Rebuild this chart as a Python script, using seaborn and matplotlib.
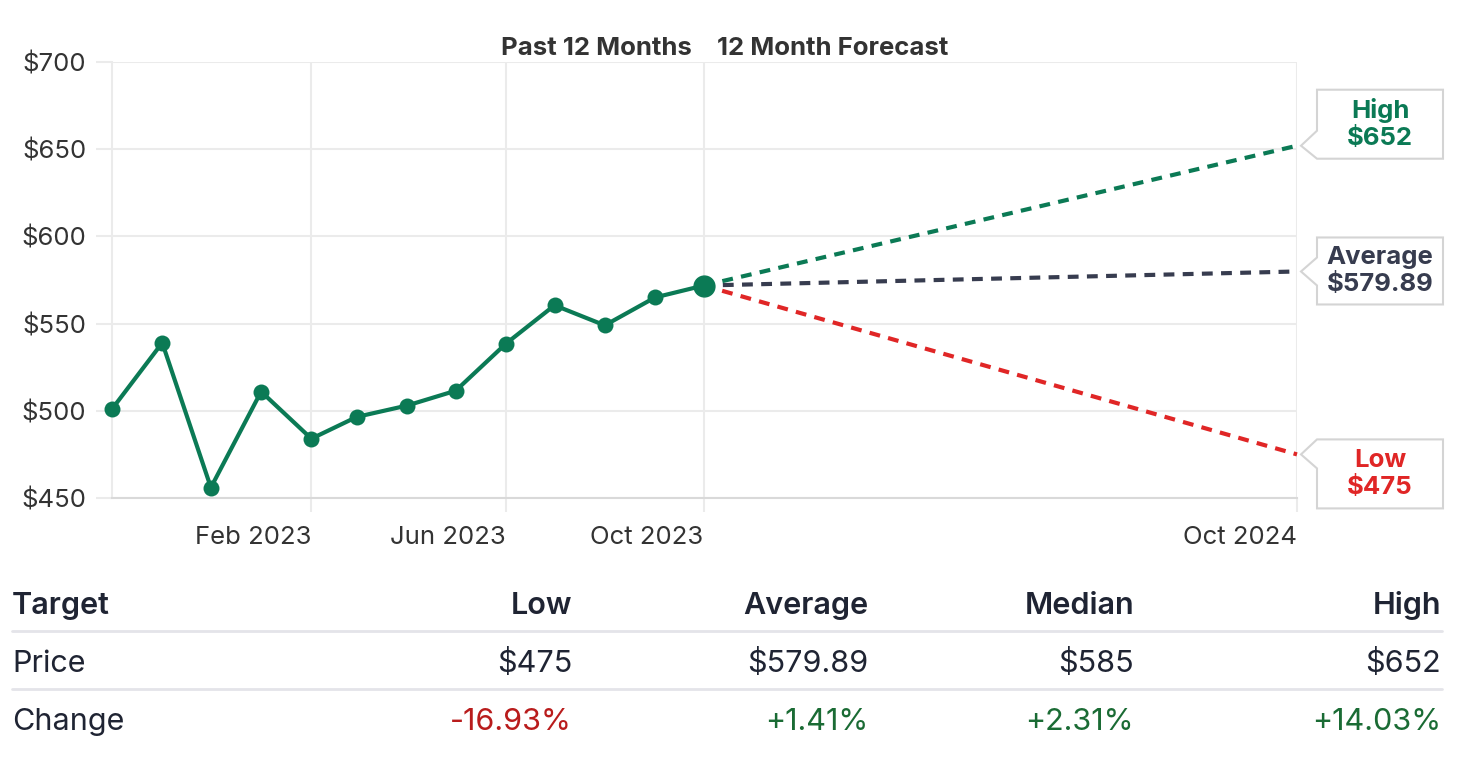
import matplotlib
matplotlib.use("Agg")
import matplotlib.pyplot as plt
import matplotlib.dates as mdates
import matplotlib.transforms as mtransforms
from matplotlib.patches import Polygon
import seaborn as sns
import pandas as pd
import numpy as np

# ---- data ----
past_dates = pd.date_range("2022-10-01", "2023-10-01", freq="MS")
past_prices = [501, 539, 456, 511, 484, 496.5, 503, 511.5, 538.5, 560.5, 549, 565, 571.83]
forecast_end = pd.Timestamp("2024-10-01")
forecast_names = ["High", "Average", "Low"]
forecast_values = [652, 579.89, 475]
forecast_labels = ["$652", "$579.89", "$475"]
y_ticks = [450, 500, 550, 600, 650, 700]
x_ticks = ["2023-02-01", "2023-06-01", "2023-10-01", "2024-10-01"]
x_tick_labels = ["Feb 2023", "Jun 2023", "Oct 2023", "Oct 2024"]

table_header = ["Target", "Low", "Average", "Median", "High"]
table_price = ["Price", "$475", "$579.89", "$585", "$652"]
table_change = ["Change", "-16.93%", "+1.41%", "+2.31%", "+14.03%"]
change_sign = [0, -1, 1, 1, 1]

# ---- style ----
sns.set_theme(style="white")
plt.rcParams["font.family"] = ["Inter", "DejaVu Sans"]

GREEN = "#0b7a55"
NAVY = "#373c4f"
RED = "#e02626"
GRID = "#ebebeb"
TXT = "#333333"
colors = {"High": GREEN, "Average": NAVY, "Low": RED}

W, H = 1464, 762
fig = plt.figure(figsize=(W / 100, H / 100), dpi=100)
ax = fig.add_axes([112 / W, 1 - 498 / H, (1297 - 112) / W, (498 - 62) / H])

past_df = pd.DataFrame({"date": past_dates, "price": past_prices})
sns.lineplot(data=past_df, x="date", y="price", ax=ax, color=GREEN, lw=3.0,
             marker="o", markersize=11.5, markeredgewidth=0, zorder=5)
ax.lines[-1].set_clip_on(False)

last_date = past_dates[-1]
last_price = past_prices[-1]
for name, val in zip(forecast_names, forecast_values):
    fdf = pd.DataFrame({"date": [last_date, forecast_end], "price": [last_price, val]})
    sns.lineplot(data=fdf, x="date", y="price", ax=ax, color=colors[name], lw=3.0,
                 dashes=False, zorder=4 if name != "Average" else 4.5)
    ax.lines[-1].set_dashes((2.6, 2.0))
    ax.lines[-1].set_clip_on(False)

ax.plot([last_date], [last_price], "o", color=GREEN, markersize=15, zorder=6)

ax.set_xlim(past_dates[0], forecast_end)
ax.set_ylim(450, 700)
ax.set_yticks(y_ticks)
ax.set_yticklabels([f"${v}" for v in y_ticks])
ax.set_xticks(pd.to_datetime(x_ticks))
ax.set_xticklabels(x_tick_labels, ha="right")
ax.set_xlabel("")
ax.set_ylabel("")
ax.grid(True, color=GRID, lw=1.5)
ax.set_axisbelow(True)
for s in ["top", "right"]:
    ax.spines[s].set_visible(False)
ax.spines["left"].set_color(GRID)
ax.spines["left"].set_linewidth(1.5)
ax.spines["bottom"].set_color("#d9d9d9")
ax.spines["bottom"].set_linewidth(1.5)
ax.tick_params(axis="y", length=11.5, width=1.5, color=GRID, pad=7, labelsize=18.5, labelcolor=TXT)
ax.tick_params(axis="x", length=10, width=1.5, color=GRID, pad=10, labelsize=18.5, labelcolor=TXT)
ax.tick_params(left=True, bottom=True)

# headings around Oct 2023
oct23 = mdates.date2num(pd.Timestamp("2023-10-01"))
trans_top = mtransforms.blended_transform_factory(ax.transData, ax.transAxes)
ax.text(oct23, 1.0, "Past 12 Months", transform=trans_top + mtransforms.Affine2D().translate(-12, 2),
        ha="right", va="bottom", fontsize=18.5, fontweight="bold", color=TXT)
ax.text(oct23, 1.0, "12 Month Forecast", transform=trans_top + mtransforms.Affine2D().translate(13, 2),
        ha="left", va="bottom", fontsize=18.5, fontweight="bold", color=TXT)

# callout boxes (pixel offsets relative to each line end)
end_num = mdates.date2num(forecast_end)
callouts = {
    # box top, box bottom (pixels, y up), notch top, notch bottom
    "High": (56, -13, 15, -13),
    "Average": (34, -33, 14, -14),
    "Low": (15, -54, 15, -14),
}
for name, val, lab in zip(forecast_names, forecast_values, forecast_labels):
    top, bot, nt, nb = callouts[name]
    tr = mtransforms.Affine2D() + mtransforms.ScaledTranslation(end_num, val, ax.transData)
    verts = [(4, 0), (20, nb), (20, bot), (146, bot), (146, top), (20, top), (20, nt)]
    poly = Polygon(verts, closed=True, transform=tr, facecolor="white",
                   edgecolor="#d4d4d4", lw=1.5, zorder=10, clip_on=False)
    ax.add_patch(poly)
    ax.text(83, (top + bot) / 2, f"{name}\n{lab}", transform=tr, ha="center", va="center",
            fontsize=18.5, fontweight="bold", color=colors[name], linespacing=1.2,
            zorder=11, clip_on=False)

# ---- table ----
col_x = [12, 572, 868, 1134, 1441]
row_y = [614, 672, 730]
sep_y = [631, 689]
for yy in sep_y:
    fig.add_artist(plt.Line2D([12 / W, 1442 / W], [1 - yy / H, 1 - yy / H], color="#e4e4e9", lw=2))

HDR = "#1f2433"
for i, txt in enumerate(table_header):
    fig.text(col_x[i] / W, 1 - row_y[0] / H, txt, ha="left" if i == 0 else "right", va="baseline",
             fontsize=22, fontweight="semibold", color=HDR)
for i, txt in enumerate(table_price):
    fig.text(col_x[i] / W, 1 - row_y[1] / H, txt, ha="left" if i == 0 else "right", va="baseline",
             fontsize=22, color=HDR)
for i, txt in enumerate(table_change):
    c = HDR if change_sign[i] == 0 else ("#b91c1c" if change_sign[i] < 0 else "#1a6b34")
    fig.text(col_x[i] / W, 1 - row_y[2] / H, txt, ha="left" if i == 0 else "right", va="baseline",
             fontsize=22, color=c)

fig.savefig("out.png", dpi=100)
